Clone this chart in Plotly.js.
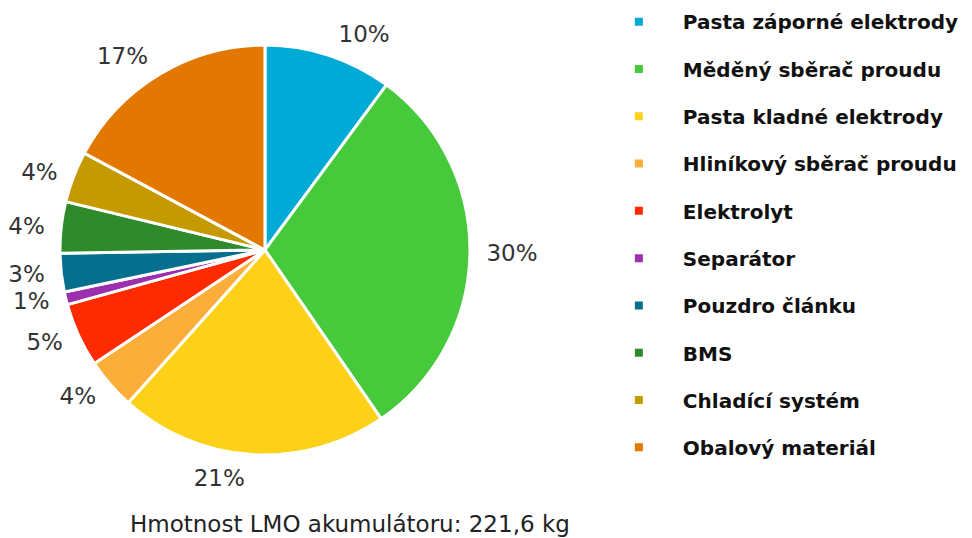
<!DOCTYPE html>
<html>
<head>
<meta charset="utf-8">
<script src="https://cdn.plot.ly/plotly-3.0.1.min.js"></script>
<style>html,body{margin:0;padding:0;background:#fff;}#chart{width:972px;height:538px;}</style>
</head>
<body>
<div id="chart"></div>
<script>
const categories = ["Pasta záporné elektrody","Měděný sběrač proudu","Pasta kladné elektrody","Hliníkový sběrač proudu","Elektrolyt","Separátor","Pouzdro článku","BMS","Chladící systém","Obalový materiál"];
const shares = [10, 30, 21, 4, 5, 1, 3, 4, 4, 17];
const colors = ["#00AAD6","#46C93A","#FDD117","#FBAE3A","#FF2A00","#9B2FAE","#066F8E","#2F8A2B","#C49A00","#E27800"];
const chartTitle = "Hmotnost LMO akumulátoru: 221,6 kg";

const FONT = "DejaVu Sans, Verdana, sans-serif";

const pieMain = {
  type: "pie", labels: categories, values: shares, sort: false, direction: "clockwise", rotation: 0,
  marker: {colors: colors, line: {color: "#ffffff", width: 3}},
  textinfo: "none", showlegend: false, hoverinfo: "label+text",
  text: shares.map(v => v + "%"),
  domain: {x: [0.0617, 0.4835], y: [0.1543, 0.9164]}
};
const pieLabels = {
  type: "pie", labels: categories, values: shares, sort: false, direction: "clockwise", rotation: 0,
  marker: {colors: categories.map(() => "rgba(0,0,0,0)"), line: {width: 0}},
  text: shares.map(v => v + "%"), texttemplate: "%{text}", textinfo: "text",
  textposition: "outside", showlegend: false, hoverinfo: "skip",
  outsidetextfont: {family: FONT, size: 23, color: "#333333"},
  domain: {x: [0.0514, 0.4938], y: [0.1357, 0.9349]}
};
const legendTraces = categories.map((c, i) => ({
  type: "scatter", mode: "markers", x: [null], y: [null], name: c, legendgroup: "g" + i,
  marker: {symbol: "square", size: 8, color: colors[i]}, hoverinfo: "skip"
}));

const layout = {
  width: 972, height: 538,
  margin: {l: 0, r: 0, t: 0, b: 0},
  paper_bgcolor: "#ffffff", plot_bgcolor: "#ffffff",
  xaxis: {visible: false}, yaxis: {visible: false},
  title: {text: chartTitle, x: 0.36, xanchor: "center", y: 0.026, yanchor: "middle",
          font: {family: FONT, size: 23, color: "#222222"}},
  legend: {x: 0.612, xanchor: "left", y: 0.996, yanchor: "top", traceorder: "grouped", tracegroupgap: 18.3,
           itemwidth: 78, font: {family: FONT, size: 20, color: "#111111", weight: "bold"},
           bgcolor: "rgba(0,0,0,0)"},
  showlegend: true
};
Plotly.newPlot("chart", [pieMain, pieLabels].concat(legendTraces), layout, {displayModeBar: false, staticPlot: true});
</script>
</body>
</html>
